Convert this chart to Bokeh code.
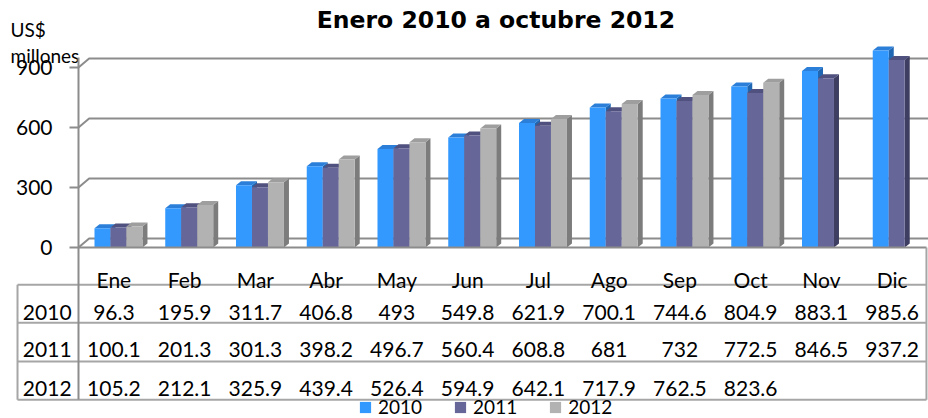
from bokeh.plotting import figure
from bokeh.models import Range1d, LinearAxis, FixedTicker, Legend, LegendItem
from bokeh.core.properties import value
from bokeh.embed import file_html
from bokeh.resources import INLINE

# ---------------- data ----------------
months = ["Ene", "Feb", "Mar", "Abr", "May", "Jun", "Jul", "Ago", "Sep", "Oct", "Nov", "Dic"]
years = ["2010", "2011", "2012"]
v2010 = [96.3, 195.9, 311.7, 406.8, 493, 549.8, 621.9, 700.1, 744.6, 804.9, 883.1, 985.6]
v2011 = [100.1, 201.3, 301.3, 398.2, 496.7, 560.4, 608.8, 681, 732, 772.5, 846.5, 937.2]
v2012 = [105.2, 212.1, 325.9, 439.4, 526.4, 594.9, 642.1, 717.9, 762.5, 823.6, None, None]
y_ticks = [0, 300, 600, 900]
title_text = "Enero 2010 a octubre 2012"
unit_lines = ["US$", "millones"]

# ---------------- style / geometry ----------------
front_colors = ["#3399FF", "#666699", "#B2B2B2"]
top_colors = ["#2B7FD8", "#51517F", "#9E9E9E"]
side_colors = ["#1F66B3", "#3E3E62", "#7C7C7C"]
GRID_C = "#8C8C8C"
TABLE_C = "#A6A6A6"
FONT = "Lato"

BAR_W = 0.226
OFF0 = 0.226
DX, DY = 0.0707, 20.0          # 3-D depth of bars
BACK_DX, BACK_DY = 0.15, 45.0  # back wall offset
X0, X1 = -1.1025, 12.014
Y0, Y1 = -855, 1235
TABLE_L, TABLE_R = -0.862, 11.985
row_lines = [-186.5, -376.5, -570.0, -761.5]
header_base = -161.5
row_bases = [-323.5, -511.5, -703.5]

p = figure(width=928, height=418, x_range=Range1d(X0, X1), y_range=Range1d(Y0, Y1),
           output_backend="svg", toolbar_location=None, min_border=0,
           x_axis_type=None, y_axis_type=None)
p.outline_line_color = None
p.background_fill_color = "white"
p.border_fill_color = "white"

# back-wall gridlines with 3-D diagonal
gx = [[0, BACK_DX, X1] for t in y_ticks]
gy = [[t, t + BACK_DY, t + BACK_DY] for t in y_ticks]
p.multi_line(gx, gy, line_color=GRID_C, line_width=2)

# bars (3-D look)
series = [v2010, v2011, v2012]
legend_items = []
for k, vals in enumerate(series):
    idx = [i for i, v in enumerate(vals) if v is not None]
    L = [i + OFF0 + k * BAR_W for i in idx]
    R = [l + BAR_W for l in L]
    T = [vals[i] for i in idx]
    side_xs = [[r, r + DX, r + DX, r] for r in R]
    side_ys = [[0, DY, t + DY, t] for t in T]
    top_xs = [[l, r, r + DX, l + DX] for l, r in zip(L, R)]
    top_ys = [[t, t, t + DY, t + DY] for t in T]
    p.patches(side_xs, side_ys, fill_color=side_colors[k], line_color=None)
    p.patches(top_xs, top_ys, fill_color=top_colors[k], line_color=None)
    r = p.quad(left=L, right=R, bottom=0, top=T, fill_color=front_colors[k], line_color=None)
    legend_items.append(LegendItem(label=years[k], renderers=[r]))

# front floor line / table top
p.segment(x0=[0], y0=[0], x1=[TABLE_R], y1=[0], line_color=GRID_C, line_width=2)

# table lines
p.segment(x0=[TABLE_L] * len(row_lines), x1=[TABLE_R] * len(row_lines),
          y0=row_lines, y1=row_lines, line_color=TABLE_C, line_width=2)
p.segment(x0=[TABLE_L, TABLE_R], x1=[TABLE_L, TABLE_R],
          y0=[row_lines[0], 0], y1=[row_lines[-1], row_lines[-1]],
          line_color=TABLE_C, line_width=2)

# table texts
centers = [i + 0.5 for i in range(len(months))]
p.text(x=centers, y=[header_base] * len(months), text=months,
       text_font=value(FONT), text_font_size="21px", text_align="center",
       text_baseline="alphabetic", text_color="black")
for k, vals in enumerate(series):
    xs = [c for c, v in zip(centers, vals) if v is not None]
    txt = [f"{v:g}" for v in vals if v is not None]
    p.text(x=xs, y=[row_bases[k]] * len(xs), text=txt,
           text_font=value(FONT), text_font_size="21px", text_align="center",
           text_baseline="alphabetic", text_color="black")
p.text(x=[-0.442] * 3, y=row_bases, text=years,
       text_font=value(FONT), text_font_size="21px", text_align="center",
       text_baseline="alphabetic", text_color="black")

# title and unit label
p.text(x=[5.90], y=[1140], text=[title_text], text_font=value("DejaVu Sans"),
       text_font_style="bold", text_font_size="23.5px", text_align="center",
       text_baseline="alphabetic", text_color="black")
p.text(x=[-0.961, -0.961], y=[1090, 960], text=unit_lines, text_font=value(FONT),
       text_font_size="19px", text_align="left", text_baseline="alphabetic",
       text_color="black")

# value axis
yaxis = LinearAxis(ticker=FixedTicker(ticks=y_ticks), fixed_location=0,
                   bounds=(row_lines[-1], 950),
                   axis_line_color=GRID_C, axis_line_width=2,
                   major_tick_line_color=GRID_C, major_tick_line_width=2,
                   major_tick_out=9, major_tick_in=0, minor_tick_line_color=None,
                   major_label_standoff=17, major_label_text_font=FONT,
                   major_label_text_font_size="21px", major_label_text_color="black")
p.add_layout(yaxis, "left")

legend = Legend(items=legend_items, orientation="horizontal", location=(358, 0),
                glyph_width=14, glyph_height=14, label_standoff=6, spacing=31,
                padding=0, margin=0, border_line_color=None, background_fill_alpha=0,
                label_text_font=FONT, label_text_font_size="19px",
                label_height=18, label_text_color="black")
p.add_layout(legend)

open("out.html", "w").write(file_html(p, INLINE))
